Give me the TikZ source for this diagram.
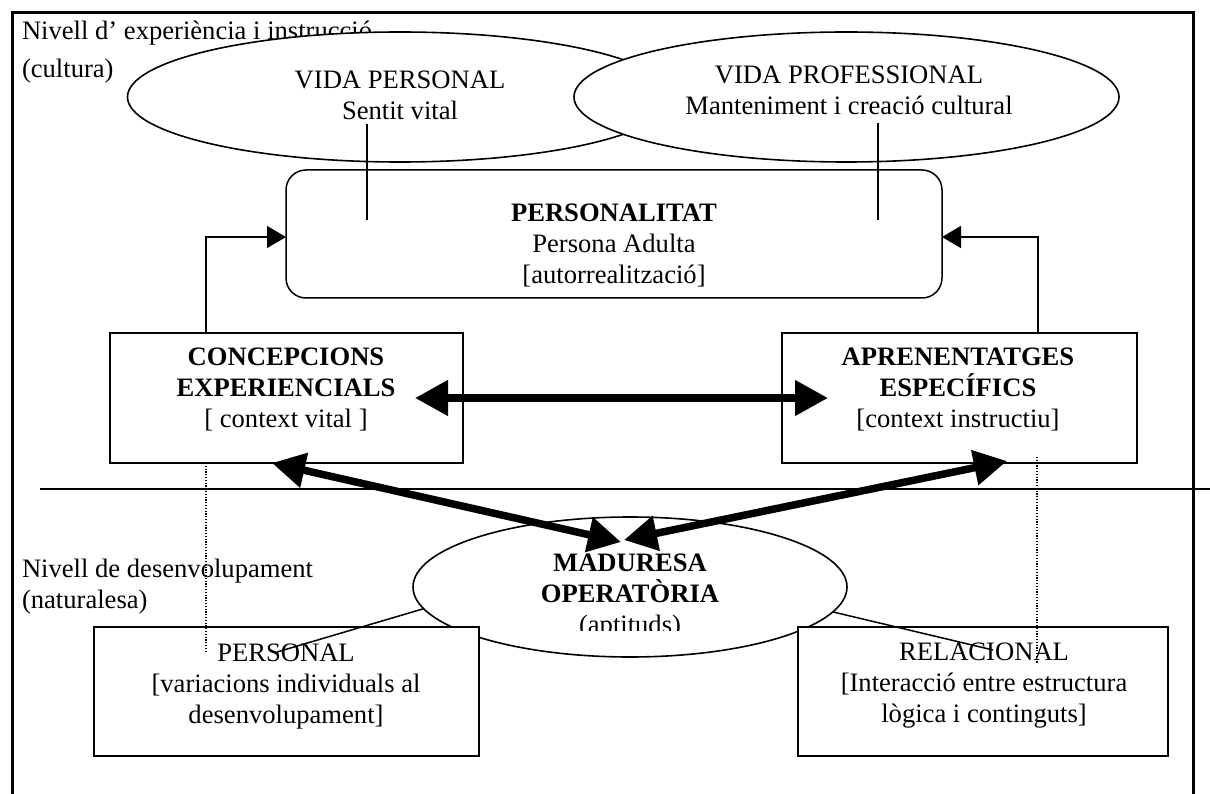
\documentclass[tikz,border=0pt]{standalone}
\usepackage{fontspec}
\setmainfont{Liberation Serif}
\usetikzlibrary{shapes.geometric,arrows.meta}
\begin{document}
\begin{tikzpicture}[x=1pt,y=-1pt,
  every node/.style={font=\fontsize{26.6}{31}\selectfont, inner sep=0pt, outer sep=0pt},
  txt/.style={align=center},
  ltxt/.style={align=left, anchor=west},
  ell/.style={ellipse, draw, fill=white, line width=1.6pt},
  boxstyle/.style={rectangle, draw, fill=white, line width=1.5pt},
  roundbox/.style={rectangle, rounded corners=20pt, draw, fill=white, line width=1.5pt},
  thinline/.style={line width=1.5pt},
  dotline/.style={line width=1.2pt, dash pattern=on 1.2pt off 1.6pt},
  thinarr/.style={line width=1.5pt, -{Triangle[length=19pt,width=22pt]}},
  thickarr/.style={line width=7.5pt, {Triangle[length=33pt,width=34pt]}-{Triangle[length=33pt,width=34pt]}},
  frame/.style={line width=3pt}]
\useasboundingbox (0,0) rectangle (1210,794);
\fill[white] (0,0) rectangle (1210,794);

% frame (open at the bottom)
\draw[frame] (12,794) -- (12,13) -- (1193,13) -- (1193,794);

% level labels
\node[ltxt] (lvltop) at (22,52) {Nivell d’ experiència i instrucció\\[7pt](cultura)};
\node[ltxt] (lvlbot) at (22,587) {Nivell de desenvolupament\\(naturalesa)};

% top ellipses
\node[ell, minimum width=545pt, minimum height=130pt] (vp) at (400,97) {};
\node[txt] (vptxt) at (400,95) {VIDA PERSONAL\\Sentit vital};
\node[ell, minimum width=545pt, minimum height=130pt] (vprof) at (846.5,97) {};
\node[txt] (vproftxt) at (849,90) {VIDA PROFESSIONAL\\Manteniment i creació cultural};

% personalitat
\node[roundbox, minimum width=656pt, minimum height=128pt] (pers) at (614,234) {};
\node[txt] (perstxt) at (614,245) {\textbf{PERSONALITAT}\\Persona Adulta\\{[}autorrealització]};

% lines from the ellipses into the personality box
\coordinate (vpa) at (367,124);
\coordinate (vpb) at (367,220);
\coordinate (vprofa) at (878,123);
\coordinate (vprofb) at (878,220);
\draw[thinline] (vpa) -- (vpb);
\draw[thinline] (vprofa) -- (vprofb);

% middle boxes
\node[boxstyle, minimum width=353pt, minimum height=130pt] (conc) at (286.5,398) {};
\node[txt] (conctxt) at (286,389) {\textbf{CONCEPCIONS}\\\textbf{EXPERIENCIALS}\\{[} context vital ]};
\node[boxstyle, minimum width=355pt, minimum height=130pt] (apr) at (959.5,398) {};
\node[txt] (aprtxt) at (958,389) {\textbf{APRENENTATGES}\\\textbf{ESPECÍFICS}\\{[}context instructiu]};

% arrows up to the personality box
\draw[thinarr] ([xshift=-80.5pt]conc.north) |- ([yshift=-3pt]pers.west);
\draw[thinarr] ([xshift=78.5pt]apr.north) |- ([yshift=-3pt]pers.east);

% separator line
\coordinate (sepl) at (40,489);
\coordinate (sepr) at (1210,489);
\draw[thinline] (sepl) -- (sepr);

% maduresa
\node[ell, minimum width=434pt, minimum height=140pt] (mad) at (630,587) {};
\begin{scope}
  \clip (400,500) rectangle (860,630);
  \node[txt] (madtxt) at (630,597) {\textbf{MADURESA}\\\textbf{OPERATÒRIA}\\(aptituds)};
\end{scope}

% bottom boxes
\node[boxstyle, minimum width=385pt, minimum height=129pt] (personal) at (286.5,691.5) {};
\node[txt] (personaltxt) at (286,687) {PERSONAL\\{[}variacions individuals al\\desenvolupament]};
\node[boxstyle, minimum width=370pt, minimum height=129pt] (relac) at (983,691.5) {};
\node[txt] (relactxt) at (984,686) {RELACIONAL\\{[}Interacció entre estructura\\lògica i continguts]};

% lines from maduresa into the bottom boxes
\coordinate (persin) at (277,652);
\coordinate (relin) at (993,650);
\draw[thinline] (mad.186) -- (persin);
\draw[thinline] (mad.353) -- (relin);

% dotted lines
\coordinate (dotla) at (206,463);
\coordinate (dotlb) at (206,653);
\coordinate (dotra) at (1037,457);
\coordinate (dotrb) at (1037,663);
\draw[dotline] (dotla) -- (dotlb);
\draw[dotline] (dotra) -- (dotrb);

% thick arrows
\coordinate (madL) at (621,542);
\coordinate (madR) at (624,540);
\draw[thickarr] ([xshift=-48pt]conc.east) -- ([xshift=46pt]apr.west);
\draw[thickarr] ([xshift=-14.5pt]conc.south) -- (madL);
\draw[thickarr] ([xshift=47.5pt,yshift=2pt]apr.south) -- (madR);
\end{tikzpicture}
\end{document}
